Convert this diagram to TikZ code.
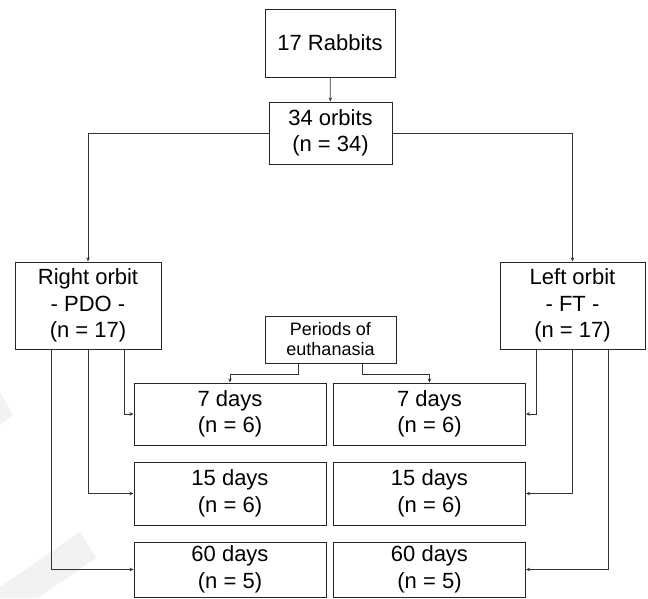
\documentclass[tikz,border=0pt]{standalone}
\usepackage{fontspec}
\setmainfont{Liberation Sans}
\usetikzlibrary{arrows.meta,shadows}

\tikzset{
  >={Stealth[length=4pt,width=3.5pt]},
  box/.style={draw=black!85, line width=1pt, fill=white, align=center, inner sep=0pt,
    font=\fontsize{22}{26.5}\selectfont,
    drop shadow={shadow xshift=0.8pt, shadow yshift=-0.8pt, fill=black!55, opacity=1}},
  daybox/.style={box, minimum width=192pt, minimum height=62pt},
  smallbox/.style={box, font=\fontsize{18}{20}\selectfont},
  link/.style={draw=black!80, line width=0.8pt},
  watermark/.style={fill=black!5, draw=none}
}

\begin{document}
\begin{tikzpicture}[x=1pt,y=-1pt]
  \useasboundingbox (0,0) rectangle (648,598);
  % faint watermark
  \fill[watermark] (0,587) -- (80,532) -- (96,558) -- (38,598) -- (0,598) -- cycle;
  \fill[watermark] (0,392) -- (13,415) -- (0,425) -- cycle;

  % top
  \node[box, minimum width=130pt, minimum height=68pt] (rabbits) at (330,43) {17 Rabbits};
  \node[box, minimum width=123pt, minimum height=62pt] (orbits) at (330.5,133) {34 orbits\\(n = 34)};

  % the two sides
  \node[box, minimum width=146pt, minimum height=87pt] (rightorb) at (88,305.5) {Right orbit\\- PDO -\\(n = 17)};
  \node[box, minimum width=145pt, minimum height=87pt] (leftorb) at (572.5,305.5) {Left orbit\\- FT -\\(n = 17)};
  \node[smallbox, minimum width=131pt, minimum height=47pt] (periods) at (330.5,339.5) {Periods of\\euthanasia};

  % periods
  \node[daybox] (r7) at (230,414) {7 days\\(n = 6)};
  \node[daybox] (l7) at (429.5,414) {7 days\\(n = 6)};
  \node[daybox, minimum height=63pt] (r15) at (230,493.5) {15 days\\(n = 6)};
  \node[daybox, minimum height=63pt] (l15) at (429.5,493.5) {15 days\\(n = 6)};
  \node[daybox, minimum height=55pt] (r60) at (230,569.5) {60 days\\(n = 5)};
  \node[daybox, minimum height=55pt] (l60) at (429.5,569.5) {60 days\\(n = 5)};

  % connectors
  \draw[link,->] (rabbits) -- (orbits);
  \draw[link,->] (orbits.west) -| (rightorb.north);
  \draw[link,->] (orbits.east) -| (leftorb.north);

  \draw[link,->] ([xshift=-32pt]periods.south) -- ++(0,11) -| (r7.north);
  \draw[link,->] ([xshift=32pt]periods.south) -- ++(0,11) -| (l7.north);

  \draw[link,->] ([xshift=36pt]rightorb.south) |- (r7.west);
  \draw[link,->] (rightorb.south) |- (r15.west);
  \draw[link,->] ([xshift=-37pt]rightorb.south) |- (r60.west);

  \draw[link,->] ([xshift=-36.5pt]leftorb.south) |- (l7.east);
  \draw[link,->] (leftorb.south) |- (l15.east);
  \draw[link,->] ([xshift=35.5pt]leftorb.south) |- (l60.east);
\end{tikzpicture}
\end{document}
